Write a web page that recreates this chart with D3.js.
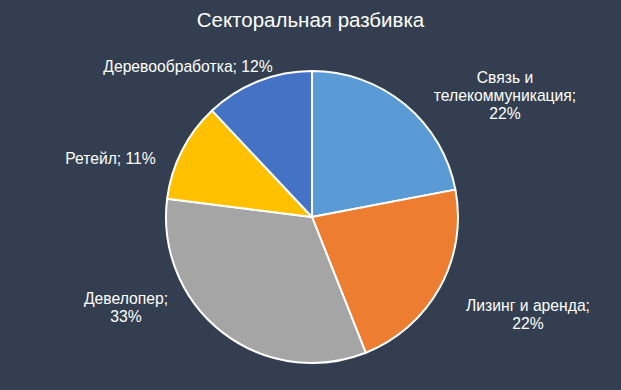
<!DOCTYPE html>
<html>
<head>
<meta charset="utf-8">
<script src="https://cdn.jsdelivr.net/npm/d3@7"></script>
<style>
  body { margin: 0; background: #333f50; }
  text { font-family: "Liberation Sans", Arial, sans-serif; fill: #ffffff; }
</style>
</head>
<body>
<div id="chart"></div>
<script>
// Data
var sectors = ["Связь и телекоммуникация", "Лизинг и аренда", "Девелопер", "Ретейл", "Деревообработка"];
var shares = [22, 22, 33, 11, 12];
var colors = ["#5b9bd5", "#ed7d31", "#a5a5a5", "#ffc000", "#4472c4"];
// label lines as they wrap in the picture
var labelLines = [
	["Связь и", "телекоммуникация;", "22%"],
	["Лизинг и аренда;", "22%"],
	["Девелопер;", "33%"],
	["Ретейл; 11%"],
	["Деревообработка; 12%"]
];
var labelPos = [[505, 83], [528, 311], [126, 304], [110.5, 164], [188, 72]];

var width = 621;
var height = 390;
var cx = 312, cy = 217, radius = 146;

var svg = d3.select("#chart")
	.append("svg")
	.attr("width", width)
	.attr("height", height);

svg.append("rect")
	.attr("width", width)
	.attr("height", height)
	.attr("fill", "#333f50");

svg.append("text")
	.attr("x", width / 2)
	.attr("y", 27)
	.attr("text-anchor", "middle")
	.style("font-size", "20.5px")
	.text("Секторальная разбивка");

var data = sectors.map(function(s, i) { return {name: s, v: shares[i], i: i}; });

var pie = d3.pie()
	.sort(null)
	.value(function(d) { return d.v; });

var arc = d3.arc()
	.innerRadius(0)
	.outerRadius(radius);

var g = svg.append("g")
	.attr("transform", "translate(" + cx + "," + cy + ")");

g.selectAll(".slice")
	.data(pie(data))
	.enter().append("path")
		.attr("class", "slice")
		.attr("d", arc)
		.attr("fill", function(d) { return colors[d.data.i]; })
		.attr("stroke", "#ffffff")
		.attr("stroke-width", 2)
		.attr("stroke-linejoin", "round");

var labels = svg.selectAll(".lbl")
	.data(data)
	.enter().append("text")
		.attr("class", "lbl")
		.attr("text-anchor", "middle")
		.style("font-size", "15.7px");

labels.each(function(d) {
	var t = d3.select(this);
	labelLines[d.i].forEach(function(line, k) {
		t.append("tspan")
			.attr("x", labelPos[d.i][0])
			.attr("y", labelPos[d.i][1] + k * 18)
			.text(line);
	});
});
</script>
</body>
</html>
